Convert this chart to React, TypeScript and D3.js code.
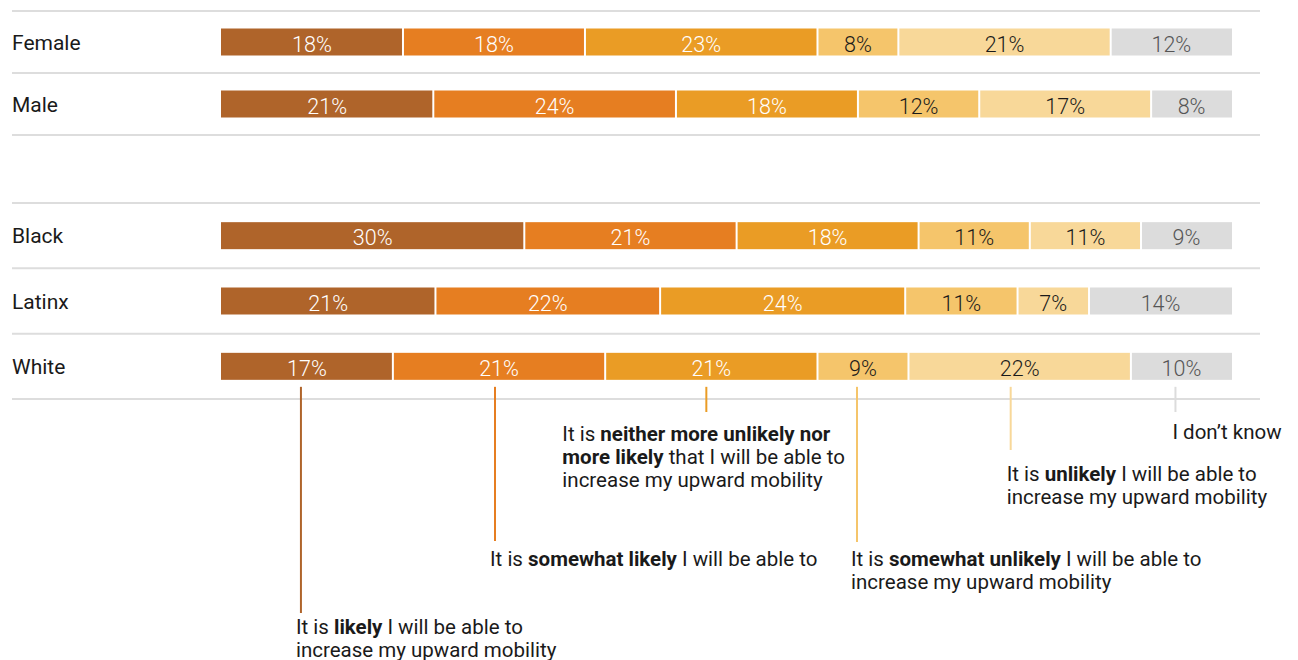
import React from "react";
import * as d3 from "d3";

// ---------- data ----------
const responseKeys = ["likely", "somewhatLikely", "neither", "somewhatUnlikely", "unlikely", "dontKnow"];
const genderCategories = ["Female", "Male"];
const raceCategories = ["Black", "Latinx", "White"];
const femaleValues = [18, 18, 23, 8, 21, 12];
const maleValues = [21, 24, 18, 12, 17, 8];
const blackValues = [30, 21, 18, 11, 11, 9];
const latinxValues = [21, 22, 24, 11, 7, 14];
const whiteValues = [17, 21, 21, 9, 22, 10];

const valuesByCategory: Record<string, number[]> = {
  Female: femaleValues,
  Male: maleValues,
  Black: blackValues,
  Latinx: latinxValues,
  White: whiteValues,
};

// annotation text: lines of [text, bold] runs
const annotationTexts: [string, boolean][][][] = [
  [[["It is ", false], ["likely", true], [" I will be able to", false]], [["increase my upward mobility", false]]],
  [[["It is ", false], ["somewhat likely", true], [" I will be able to", false]]],
  [
    [["It is ", false], ["neither more unlikely nor", true]],
    [["more likely", true], [" that I will be able to", false]],
    [["increase my upward mobility", false]],
  ],
  [[["It is ", false], ["somewhat unlikely", true], [" I will be able to", false]], [["increase my upward mobility", false]]],
  [[["It is ", false], ["unlikely", true], [" I will be able to", false]], [["increase my upward mobility", false]]],
  [[["I don\u2019t know", false]]],
];
const annotatedCategory = "White";

// ---------- styles / layout ----------
const W = 1298;
const H = 660;
const segmentColors = ["#AF642A", "#E67E21", "#EA9C25", "#F5C56B", "#F8D899", "#DCDCDC"];
const labelColors = ["#ffffff", "#ffffff", "#ffffff", "#1a1a1a", "#1a1a1a", "#555555"];
const gridColor = "#DDDDDD";
const FONT = "Roboto, 'Noto Sans', sans-serif";
const barLeft = 221;
const barRight = 1232;
const gridLeft = 12;
const gridRight = 1260;
const barH = 27;
// annotation layout (line end y, first baseline, text dx from line, line shift from segment centre)
const annLineEnd = [613, 541, 412, 542, 450, 412];
const annBaseline = [634, 566, 441, 566, 481, 439];
const annDx = [-5, -5, -144, -6, -4, -3];
const annLineShift = [-6, -4, -5, -6, -9, -6];
const annLineGap = 23;

export default function App() {
  const genderY = d3.scaleBand<string>().domain(genderCategories).range([11, 135]).padding(0);
  const raceY = d3.scaleBand<string>().domain(raceCategories).range([203, 399]).padding(0);

  const groups = [
    { cats: genderCategories, y: genderY },
    { cats: raceCategories, y: raceY },
  ];

  const rowInfo = (cat: string, y: d3.ScaleBand<string>) => {
    const vals = valuesByCategory[cat];
    const total = d3.sum(vals);
    const x = d3.scaleLinear().domain([0, total]).range([barLeft, barRight]);
    const cum = d3.cumsum(vals);
    const segs = vals.map((v, i) => {
      const s = i === 0 ? 0 : cum[i - 1];
      const e = cum[i];
      return { v, i, x0: x(s), x1: x(e) };
    });
    const cy = (y(cat) as number) + y.bandwidth() / 2;
    return { segs, cy };
  };

  const annotated = rowInfo(annotatedCategory, raceY);
  const annTop = annotated.cy + barH / 2 + 7;

  return (
    <svg
      width={W}
      height={H}
      style={{ position: "absolute", left: 0, top: 0, background: "#fff" }}
      fontFamily={FONT}
    >
      {/* gridlines */}
      {groups.map((g, gi) => (
        <g key={"grid" + gi}>
          {g.cats.map((c) => (
            <line key={c} x1={gridLeft} x2={gridRight} y1={g.y(c)} y2={g.y(c)} stroke={gridColor} strokeWidth={2} />
          ))}
          <line
            x1={gridLeft}
            x2={gridRight}
            y1={g.y.range()[1]}
            y2={g.y.range()[1]}
            stroke={gridColor}
            strokeWidth={2}
          />
        </g>
      ))}

      {/* bars */}
      {groups.map((g, gi) =>
        g.cats.map((c) => {
          const { segs, cy } = rowInfo(c, g.y);
          return (
            <g key={c}>
              <text x={gridLeft} y={cy} dy="0.36em" fontSize={21} fill="#1a1a1a">
                {c}
              </text>
              {segs.map((s) => {
                const a = s.x0 + (s.i > 0 ? 1 : 0);
                const b = s.x1 - (s.i < segs.length - 1 ? 1 : 0);
                return (
                  <g key={s.i}>
                    <rect x={a} y={cy - barH / 2} width={b - a} height={barH} fill={segmentColors[s.i]} />
                    <text
                      x={(s.x0 + s.x1) / 2}
                      y={cy + 2}
                      dy="0.36em"
                      textAnchor="middle"
                      fontSize={21.5}
                      fontWeight={300}
                      fill={labelColors[s.i]}
                    >
                      {s.v}%
                    </text>
                  </g>
                );
              })}
            </g>
          );
        })
      )}

      {/* annotations */}
      {annotated.segs.map((s) => {
        const lx = (s.x0 + s.x1) / 2 + annLineShift[s.i];
        const tx = lx + annDx[s.i];
        return (
          <g key={"ann" + s.i}>
            <line x1={lx} x2={lx} y1={annTop} y2={annLineEnd[s.i]} stroke={segmentColors[s.i]} strokeWidth={2} />
            {annotationTexts[s.i].map((line, li) => (
              <text key={li} x={tx} y={annBaseline[s.i] + li * annLineGap} fontSize={20.5} fill="#1a1a1a">
                {line.map(([t, bold], ri) => (
                  <tspan key={ri} fontWeight={bold ? 700 : 400}>
                    {t}
                  </tspan>
                ))}
              </text>
            ))}
          </g>
        );
      })}
    </svg>
  );
}
